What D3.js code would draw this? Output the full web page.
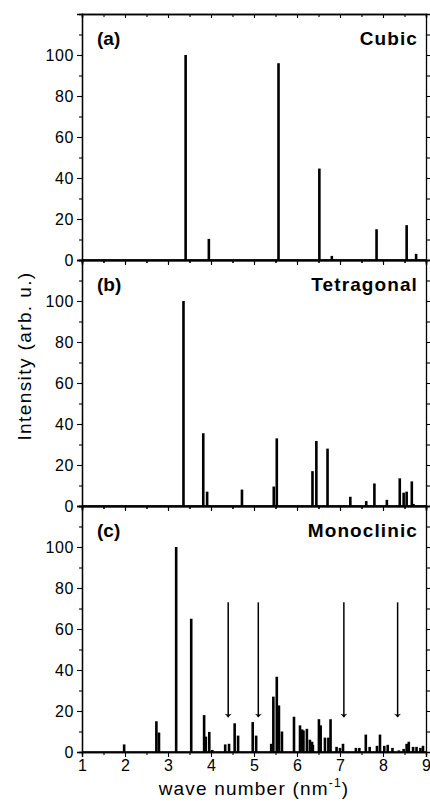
<!DOCTYPE html>
<html>
<head>
<meta charset="utf-8">
<script src="https://cdn.jsdelivr.net/npm/d3@7"></script>
<style>
  body { margin: 0; background: #fff; }
  svg { display: block; font-family: "Liberation Sans", Arial, sans-serif; }
</style>
</head>
<body>
<div class="chart"></div>
<script>
// 三个晶相的衍射峰 (wave number, intensity)
const cubicX = [3.41, 3.95, 5.57, 6.52, 6.81, 7.85, 8.55, 8.77]
const cubicY = [100, 10.3, 96, 44.6, 2, 15, 17, 3]

const tetraX = [3.36, 3.82, 3.91, 4.72, 5.46, 5.53, 6.36, 6.45, 6.71, 7.24, 7.61, 7.80, 8.09, 8.39, 8.48, 8.55, 8.67, 8.71]
const tetraY = [100, 35.5, 7, 8, 9.5, 33, 17, 31.7, 28, 4.5, 2.4, 11, 3, 13.5, 6.5, 7, 12, 1]

const monoX = [1.98, 2.73, 2.79, 3.19, 3.54, 3.84, 3.88, 3.96, 4.03, 4.33, 4.42, 4.55, 4.63, 4.97, 5.05,
  5.40, 5.45, 5.53, 5.58, 5.65, 5.93, 6.07, 6.12, 6.15, 6.23, 6.30, 6.35, 6.37, 6.51, 6.55, 6.65, 6.73, 6.78,
  6.92, 7.00, 7.07, 7.37, 7.45, 7.60, 7.69, 7.86, 7.93, 8.03, 8.11, 8.22, 8.37, 8.48, 8.55, 8.60, 8.70, 8.78, 8.87, 8.93]
const monoY = [3.7, 15, 9.5, 100, 65, 18, 7.5, 9.8, 1, 3.7, 4, 14, 8, 14.6, 8,
  4, 27, 36.7, 22.7, 10, 17.2, 13, 11, 10.5, 11.3, 6, 5, 3.5, 16, 13, 7, 7, 16,
  2.5, 2, 4, 2, 2, 8.5, 2.5, 3, 8.5, 3, 3.5, 2, 0.8, 1.5, 4, 5, 2.5, 2.5, 2, 3]

// 单斜相中的箭头位置
const arrowX = [4.40, 5.10, 7.09, 8.34]
const arrowTop = 73
const arrowTip = 17

const panels = [
  { tag: '(a)', name: 'Cubic', xs: cubicX, ys: cubicY },
  { tag: '(b)', name: 'Tetragonal', xs: tetraX, ys: tetraY },
  { tag: '(c)', name: 'Monoclinic', xs: monoX, ys: monoY, arrows: arrowX }
]

const svgW = 430
const svgH = 804
const plotL = 82
const plotR = 426
const plotT = 14
const panelH = 246

const svg = d3.select('.chart').append('svg')
  .attr('width', svgW)
  .attr('height', svgH)

svg.append('defs').append('marker')
  .attr('id', 'head')
  .attr('viewBox', '0 0 10 20')
  .attr('refX', 10)
  .attr('refY', 10)
  .attr('markerWidth', 12)
  .attr('markerHeight', 7)
  .attr('markerUnits', 'userSpaceOnUse')
  .attr('orient', 'auto')
  .append('path')
  .attr('d', 'M0,0 L10,10 L0,20 L3,10 Z')
  .attr('fill', 'black')

const x = d3.scaleLinear().domain([1, 9]).range([plotL, plotR])

panels.forEach((p, i) => {
  const y0 = plotT + i * panelH
  const y = d3.scaleLinear().domain([0, 120]).range([y0 + panelH, y0])
  const g = svg.append('g')

  // 基线
  g.append('line')
    .attr('x1', plotL).attr('x2', plotR)
    .attr('y1', y(0)).attr('y2', y(0))
    .attr('stroke', 'black').attr('stroke-width', 1.4)

  // 峰
  g.append('g').selectAll('rect')
    .data(p.xs.map((v, k) => [v, p.ys[k]]))
    .join('rect')
    .attr('x', d => x(d[0]) - 1.3)
    .attr('width', 2.6)
    .attr('y', d => y(d[1]))
    .attr('height', d => y(0) - y(d[1]))
    .attr('fill', 'black')

  if (p.arrows) {
    g.append('g').selectAll('line')
      .data(p.arrows)
      .join('line')
      .attr('x1', d => x(d)).attr('x2', d => x(d))
      .attr('y1', y(arrowTop)).attr('y2', y(arrowTip))
      .attr('stroke', 'black').attr('stroke-width', 1.5)
      .attr('marker-end', 'url(#head)')
  }

  // 坐标轴
  const styleAxis = a => {
    a.select('.domain').attr('stroke', 'black').attr('stroke-width', 1.3)
    a.selectAll('.tick line').attr('stroke', 'black').attr('stroke-width', 1.1)
  }

  g.append('g').attr('transform', `translate(${plotL},0)`)
    .call(d3.axisLeft(y).tickValues([10, 30, 50, 70, 90, 110]).tickSize(3).tickFormat(''))
    .call(styleAxis)
  g.append('g').attr('transform', `translate(${plotL},0)`)
    .call(d3.axisLeft(y).tickValues([0, 20, 40, 60, 80, 100]).tickSize(5).tickPadding(3))
    .call(styleAxis)
    .selectAll('text').attr('font-size', 16).attr('fill', 'black').attr('letter-spacing', 0.6)

  g.append('g').attr('transform', `translate(${plotR},0)`)
    .call(d3.axisLeft(y).tickValues(d3.range(0, 120, 10)).tickSize(-4).tickFormat(''))
    .call(styleAxis)

  g.append('g').attr('transform', `translate(0,${y0})`)
    .call(d3.axisBottom(x).tickValues(d3.range(1.5, 9, 1)).tickSize(3).tickFormat(''))
    .call(styleAxis)
  g.append('g').attr('transform', `translate(0,${y0})`)
    .call(d3.axisBottom(x).tickValues(d3.range(1, 10)).tickSize(4).tickFormat(''))
    .call(styleAxis)

  const bx = g.append('g').attr('transform', `translate(0,${y0 + panelH})`)
    .call(d3.axisBottom(x).tickValues(d3.range(1, 10)).tickSize(5).tickPadding(3)
      .tickFormat(i === 2 ? d3.format('d') : ''))
    .call(styleAxis)
  bx.selectAll('text').attr('font-size', 16).attr('fill', 'black')
  g.append('g').attr('transform', `translate(0,${y0 + panelH})`)
    .call(d3.axisBottom(x).tickValues(d3.range(1.5, 9, 1)).tickSize(3).tickFormat(''))
    .call(styleAxis)

  g.append('text')
    .attr('x', plotL + 15).attr('y', y0 + 31)
    .attr('font-size', 19).attr('font-weight', 'bold')
    .text(p.tag)
  g.append('text')
    .attr('x', plotR - 8).attr('y', y0 + 31)
    .attr('text-anchor', 'end')
    .attr('font-size', 19).attr('font-weight', 'bold')
    .attr('letter-spacing', 1.1)
    .text(p.name)
})

svg.append('text')
  .attr('transform', 'translate(31,356) rotate(-90)')
  .attr('text-anchor', 'middle')
  .attr('font-size', 19)
  .attr('letter-spacing', 1.4)
  .text('Intensity (arb. u.)')

const xl = svg.append('text')
  .attr('x', 254).attr('y', 795)
  .attr('text-anchor', 'middle')
  .attr('font-size', 19)
  .attr('letter-spacing', 1.2)
xl.append('tspan').text('wave number (nm')
xl.append('tspan').attr('font-size', 12).attr('dy', -8).text('-1')
xl.append('tspan').attr('dy', 8).text(')')
</script>
</body>
</html>
